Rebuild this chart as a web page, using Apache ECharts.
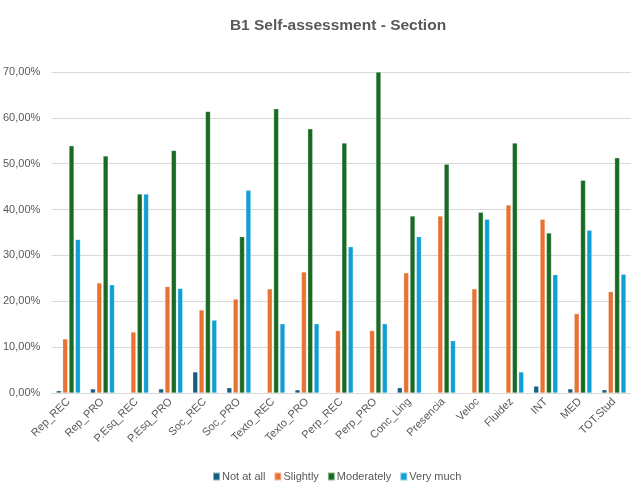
<!DOCTYPE html>
<html>
<head>
<meta charset="utf-8">
<script src="https://cdn.jsdelivr.net/npm/echarts@6/dist/echarts.min.js"></script>
<style>html,body{margin:0;padding:0;background:#fff}#c{width:631px;height:485px}</style>
</head>
<body>
<div id="c"></div>
<script>
const categories = ['Rep_REC','Rep_PRO','P.Esq_REC','P.Esq_PRO','Soc_REC','Soc_PRO','Texto_REC','Texto_PRO','Perp_REC','Perp_PRO','Conc_Ling','Presencia','Veloc','Fluidez','INT','MED','TOT.Stud'];
const notAtAll   = [0.5, 0.9, 0, 0.9, 4.6, 1.15, 0, 0.7, 0, 0, 1.15, 0, 0, 0, 1.5, 0.9, 0.7];
const slightly   = [11.8, 24.0, 13.3, 23.2, 18.1, 20.5, 22.7, 26.4, 13.6, 13.6, 26.2, 38.6, 22.7, 41.0, 37.9, 17.3, 22.1];
const moderately = [53.9, 51.7, 43.4, 52.9, 61.4, 34.1, 62.0, 57.6, 54.5, 70.0, 38.6, 49.9, 39.4, 54.5, 34.9, 46.4, 51.3];
const veryMuch   = [33.5, 23.6, 43.4, 22.8, 15.9, 44.2, 15.1, 15.1, 31.9, 15.1, 34.1, 11.4, 37.9, 4.6, 25.8, 35.5, 25.9];
const seriesNames = ['Not at all','Slightly','Moderately','Very much'];
const colors = ['#156082','#E97132','#196B24','#0F9ED5'];
const yTicks = {min: 0, max: 70, interval: 10};

const font = '"Liberation Sans Narrow", "Liberation Sans", sans-serif';
const chart = echarts.init(document.getElementById('c'));
const data = [notAtAll, slightly, moderately, veryMuch];
chart.setOption({
  animation: false,
  color: colors,
  title: {
    text: 'B1 Self-assessment - Section',
    left: 333, top: 13, textAlign: 'center',
    textStyle: {fontFamily: font, fontSize: 15.5, fontWeight: 'bold', color: '#595959'}
  },
  legend: {
    data: seriesNames,
    left: 207, top: 466,
    itemWidth: 7, itemHeight: 8, itemGap: 8,
    icon: 'rect',
    textStyle: {fontFamily: font, fontSize: 11, color: '#595959', padding: [0,0,0,-3]}
  },
  grid: {left: 48, top: 72, width: 595, height: 321, containLabel: false},
  xAxis: {
    type: 'category', data: categories,
    axisTick: {show: false},
    axisLine: {lineStyle: {color: '#D9D9D9'}},
    axisLabel: {rotate: 45, interval: 0, margin: 7, fontFamily: font, fontSize: 11, color: '#595959'}
  },
  yAxis: {
    type: 'value', min: yTicks.min, max: yTicks.max, interval: yTicks.interval,
    axisLine: {show: false}, axisTick: {show: false},
    splitLine: {lineStyle: {color: '#D9D9D9', width: 1}},
    axisLabel: {margin: 11, fontFamily: font, fontSize: 11, color: '#595959',
      formatter: v => v.toFixed(2).replace('.', ',') + '%'}
  },
  series: data.map((d, i) => ({
    name: seriesNames[i], type: 'bar', data: d,
    barWidth: 5, barGap: '27%',
    itemStyle: {borderColor: 'rgba(255,255,255,0.5)', borderWidth: 0.5}
  }))
});
</script>
</body>
</html>
